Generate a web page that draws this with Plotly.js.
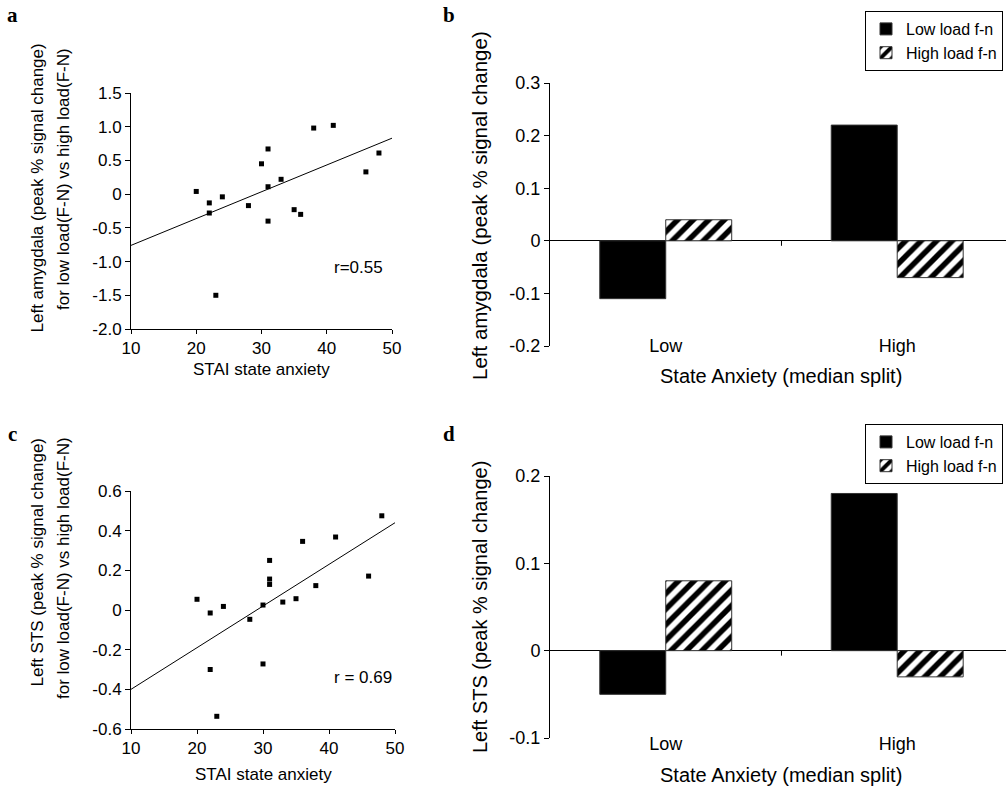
<!DOCTYPE html>
<html>
<head>
<meta charset="utf-8">
<script src="https://cdn.plot.ly/plotly-3.0.1.min.js"></script>
<style>html,body{margin:0;padding:0;background:#fff;}#chart{width:1006px;height:787px;}</style>
</head>
<body>
<div id="chart"></div>
<script>
// ---------- data ----------
const anxietyA = [20, 22, 22, 24, 23, 28, 30, 31, 31, 31, 33, 35, 36, 38, 41, 46, 48];
const amygdalaA = [0.04, -0.13, -0.28, -0.04, -1.50, -0.17, 0.45, 0.67, 0.11, -0.40, 0.22, -0.23, -0.30, 0.98, 1.02, 0.33, 0.61];
const fitAX = [10, 50];
const fitAY = [-0.76, 0.83];
const rTextA = "r=0.55";

const anxietyC = [20, 22, 22, 24, 23, 28, 30, 30, 31, 31, 31, 33, 35, 36, 38, 41, 46, 48];
const stsC = [0.054, -0.015, -0.30, 0.018, -0.536, -0.047, 0.025, -0.272, 0.25, 0.156, 0.129, 0.04, 0.057, 0.346, 0.123, 0.368, 0.171, 0.475];
const fitCX = [10, 50];
const fitCY = [-0.40, 0.44];
const rTextC = "r = 0.69";

const groups = ["Low", "High"];
const seriesNames = ["Low load f-n", "High load f-n"];
const amygLowLoad = [-0.11, 0.22];
const amygHighLoad = [0.04, -0.07];
const stsLowLoad = [-0.05, 0.18];
const stsHighLoad = [0.08, -0.03];

const ticksA = [-2, -1.5, -1, -0.5, 0, 0.5, 1, 1.5];
const tickTextA = ["-2.0", "-1.5", "-1.0", "-0.5", "0", "0.5", "1.0", "1.5"];
const ticksB = [-0.2, -0.1, 0, 0.1, 0.2, 0.3];
const tickTextB = ["-0.2", "-0.1", "0", "0.1", "0.2", "0.3"];
const ticksC = [-0.6, -0.4, -0.2, 0, 0.2, 0.4, 0.6];
const tickTextC = ["-0.6", "-0.4", "-0.2", "0", "0.2", "0.4", "0.6"];
const ticksD = [-0.1, 0, 0.1, 0.2];
const tickTextD = ["-0.1", "0", "0.1", "0.2"];
const ticksX = [10, 20, 30, 40, 50];
const tickTextX = ["10", "20", "30", "40", "50"];

// ---------- layout helpers ----------
const W = 1006, H = 787;
const fx = p => p / W;
const fy = p => 1 - p / H;
const SANS = "Liberation Sans, Arial, sans-serif";
const SERIF = "Liberation Serif, Times New Roman, serif";

const solid = {color: "black", line: {color: "#333", width: 1}};
const hatched = {color: "white", line: {color: "#333", width: 1},
  pattern: {shape: "/", fgcolor: "black", bgcolor: "white", size: 11, solidity: 0.5, fillmode: "replace"}};

const traces = [
  {type: "scatter", mode: "markers", x: anxietyA, y: amygdalaA, xaxis: "x", yaxis: "y",
   marker: {symbol: "square", size: 5, color: "black"}, showlegend: false, hoverinfo: "x+y"},
  {type: "scatter", mode: "lines", x: fitAX, y: fitAY, xaxis: "x", yaxis: "y",
   line: {color: "black", width: 1}, showlegend: false},
  {type: "bar", x: groups, y: amygLowLoad, name: seriesNames[0], xaxis: "x2", yaxis: "y2", marker: solid, legend: "legend"},
  {type: "bar", x: groups, y: amygHighLoad, name: seriesNames[1], xaxis: "x2", yaxis: "y2", marker: hatched, legend: "legend"},
  {type: "scatter", mode: "markers", x: anxietyC, y: stsC, xaxis: "x3", yaxis: "y3",
   marker: {symbol: "square", size: 5, color: "black"}, showlegend: false, hoverinfo: "x+y"},
  {type: "scatter", mode: "lines", x: fitCX, y: fitCY, xaxis: "x3", yaxis: "y3",
   line: {color: "black", width: 1}, showlegend: false},
  {type: "bar", x: groups, y: stsLowLoad, name: seriesNames[0], xaxis: "x4", yaxis: "y4", marker: solid, legend: "legend2"},
  {type: "bar", x: groups, y: stsHighLoad, name: seriesNames[1], xaxis: "x4", yaxis: "y4", marker: hatched, legend: "legend2"}
];

const scatterX = (dom, anchor) => ({domain: dom, anchor: anchor, range: [10, 50], tickvals: ticksX, ticktext: tickTextX,
  showline: true, linecolor: "black", linewidth: 1, ticks: "outside", ticklen: 4, tickcolor: "black",
  showgrid: false, zeroline: false, tickfont: {size: 17, color: "black"}, fixedrange: true});
const valueY = (dom, anchor, range, tv, tt, fs) => ({domain: dom, anchor: anchor, range: range, tickvals: tv, ticktext: tt,
  showline: true, linecolor: "black", linewidth: 1, ticks: "outside", ticklen: 5, tickcolor: "black",
  showgrid: false, zeroline: false, tickfont: {size: fs, color: "black"}, fixedrange: true});
const catX = (dom, pos) => ({domain: dom, anchor: "free", position: pos, type: "category", range: [-0.5, 1.47],
  showline: false, ticks: "", showgrid: false, zeroline: false, tickfont: {size: 18, color: "black"}, fixedrange: true});

const yB = valueY([fy(346), fy(83)], "x2", [-0.2, 0.3], ticksB, tickTextB, 18);
yB.zeroline = true; yB.zerolinecolor = "black"; yB.zerolinewidth = 1;
const yD = valueY([fy(738), fy(476)], "x4", [-0.1, 0.2], ticksD, tickTextD, 18);
yD.zeroline = true; yD.zerolinecolor = "black"; yD.zerolinewidth = 1;

const ann = (text, x, y, opts) => Object.assign({text: text, xref: "paper", yref: "paper", x: fx(x), y: fy(y),
  showarrow: false, xanchor: "center", yanchor: "middle", font: {family: SANS, size: 17, color: "black"}}, opts || {});

const legendStyle = (top) => ({x: fx(1003), xanchor: "right", y: fy(top), yanchor: "top",
  bordercolor: "black", borderwidth: 1, bgcolor: "white", itemwidth: 30, traceorder: "normal",
  font: {family: SANS, size: 16, color: "black"}, tracegroupgap: 0});

const layout = {
  width: W, height: H,
  margin: {l: 0, r: 0, t: 0, b: 0},
  paper_bgcolor: "white", plot_bgcolor: "rgba(0,0,0,0)",
  font: {family: SANS, color: "black"},
  barmode: "group", bargap: 0.43, bargroupgap: 0,
  showlegend: true,
  legend: legendStyle(11),
  legend2: legendStyle(424),
  xaxis: scatterX([fx(131), fx(392)], "y"),
  yaxis: valueY([fy(329), fy(93)], "x", [-2, 1.5], ticksA, tickTextA, 17),
  xaxis2: catX([fx(550), 1], fy(333)),
  yaxis2: yB,
  xaxis3: scatterX([fx(131), fx(395)], "y3"),
  yaxis3: valueY([fy(729), fy(491)], "x3", [-0.6, 0.6], ticksC, tickTextC, 17),
  xaxis4: catX([fx(550), 1], fy(731)),
  yaxis4: yD,
  shapes: [
    {type: "line", xref: "x2", yref: "y2", x0: 0.5, x1: 0.5, ysizemode: "pixel", yanchor: 0, y0: 0, y1: -5, line: {color: "black", width: 1}},
    {type: "line", xref: "x4", yref: "y4", x0: 0.5, x1: 0.5, ysizemode: "pixel", yanchor: 0, y0: 0, y1: -5, line: {color: "black", width: 1}}
  ],
  annotations: [
    ann("a", 12, 15, {font: {family: SERIF, size: 21, color: "black"}, text: "<b>a</b>"}),
    ann("b", 449, 15, {font: {family: SERIF, size: 21, color: "black"}, text: "<b>b</b>"}),
    ann("c", 12, 434, {font: {family: SERIF, size: 21, color: "black"}, text: "<b>c</b>"}),
    ann("d", 449, 434, {font: {family: SERIF, size: 21, color: "black"}, text: "<b>d</b>"}),
    ann("Left amygdala (peak % signal change)", 37, 42, {textangle: -90, yanchor: "top"}),
    ann("for low load(F-N) vs high load(F-N)", 63, 46, {textangle: -90, yanchor: "top"}),
    ann("STAI state anxiety", 261, 369),
    ann(rTextA, 358, 268),
    ann("Left STS (peak % signal change)", 37, 436, {textangle: -90, yanchor: "top"}),
    ann("for low load(F-N) vs high load(F-N)", 63, 435, {textangle: -90, yanchor: "top"}),
    ann("STAI state anxiety", 263, 774),
    ann(rTextC, 363, 677),
    ann("Left amygdala (peak % signal change)", 480, 206, {textangle: -90, font: {family: SANS, size: 20.5, color: "black"}}),
    ann("State Anxiety (median split)", 781, 376, {font: {family: SANS, size: 20, color: "black"}}),
    ann("Left STS (peak % signal change)", 480, 607, {textangle: -90, font: {family: SANS, size: 20, color: "black"}}),
    ann("State Anxiety (median split)", 781, 775, {font: {family: SANS, size: 20, color: "black"}})
  ]
};

Plotly.newPlot("chart", traces, layout, {displayModeBar: false, staticPlot: true});
</script>
</body>
</html>
